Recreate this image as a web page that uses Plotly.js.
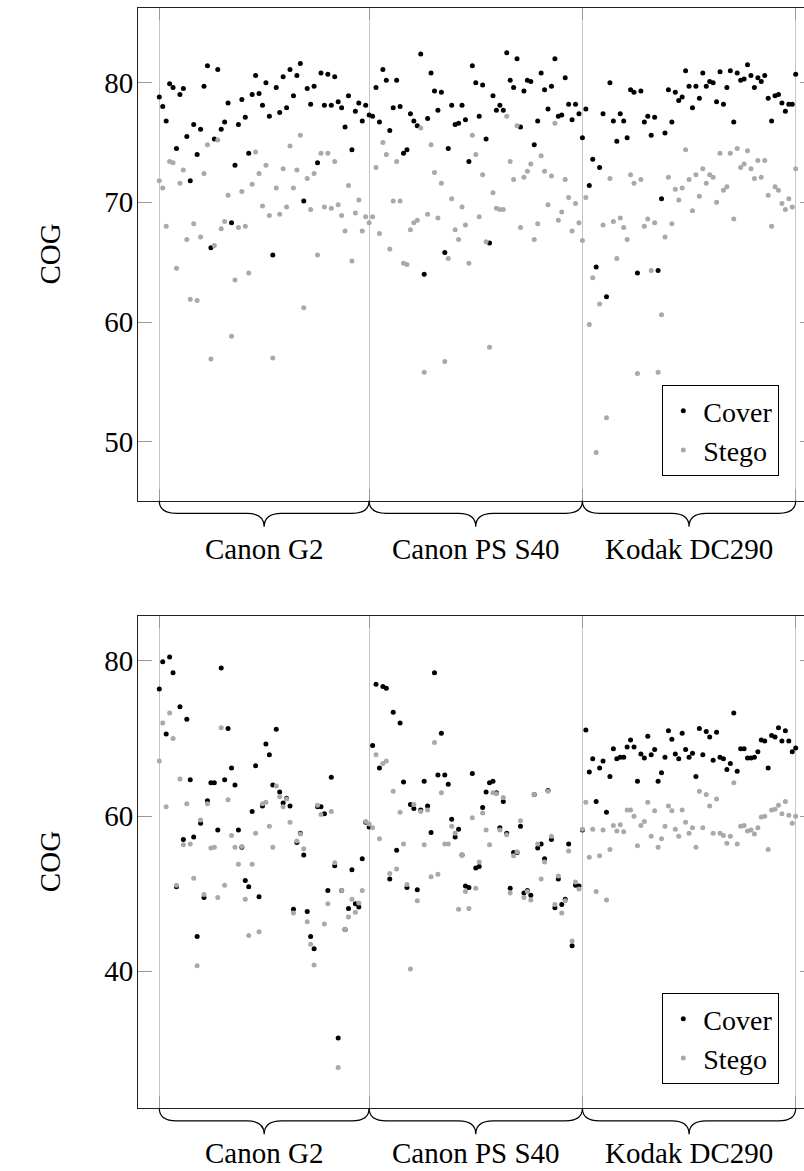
<!DOCTYPE html>
<html><head><meta charset="utf-8">
<script src="https://cdn.plot.ly/plotly-3.0.1.min.js"></script>
<style>html,body{margin:0;padding:0;overflow:hidden;background:#fff}</style>
</head><body><div id="chart" style="width:816px;height:1171px"></div>
<script>
const groupLabels = ['Canon G2', 'Canon PS S40', 'Kodak DC290'];
const groupBounds = [0, 61, 123, 185];
const seriesNames = ['Cover', 'Stego'];
const topTicks = [50, 60, 70, 80];
const bottomTicks = [40, 60, 80];

const topCover = [
78.8,78.0,76.8,79.9,79.6,74.5,79.0,79.5,75.5,71.8,
76.5,74.0,76.1,79.7,81.4,66.2,75.3,81.1,76.1,76.7,
78.3,68.3,73.1,76.5,78.6,77.1,74.1,79.0,80.6,79.1,
78.1,80.0,77.2,65.6,79.6,77.5,80.5,77.9,81.1,78.9,
80.6,81.6,70.1,79.5,78.2,79.7,73.3,80.8,78.1,80.7,
78.1,80.5,78.4,77.9,76.3,78.9,74.4,77.6,78.3,76.8,
78.1,77.3,77.2,79.6,76.7,81.1,80.2,76.0,77.9,80.2,
78.0,74.1,74.4,77.4,76.8,76.4,82.4,64.0,77.0,80.8,
79.3,77.7,79.2,65.8,74.5,78.1,76.5,76.6,78.1,76.9,
73.4,81.4,80.0,77.2,79.8,75.3,66.6,78.9,77.7,78.1,
77.7,82.5,80.2,79.6,82.0,76.3,79.3,80.2,80.1,74.8,
76.8,80.8,79.4,77.8,79.7,82.0,77.2,77.3,80.4,78.2,
76.9,78.2,77.4,75.4,77.8,71.4,73.6,64.6,72.9,77.4,
62.1,80.0,76.8,75.1,77.4,76.8,75.4,79.4,79.2,64.1,
79.3,76.7,77.2,75.6,77.1,64.3,70.3,75.8,79.4,76.7,
79.2,78.5,78.8,81.0,79.7,77.9,79.7,78.7,80.8,79.7,
80.1,80.0,78.4,80.9,78.2,79.6,81.0,76.7,80.8,80.2,
80.3,81.5,80.6,79.6,80.4,80.1,80.6,78.7,76.8,78.9,
79.0,78.3,77.6,78.2,78.2,80.7];

const topStego = [
71.8,71.2,68.0,73.4,73.3,64.5,71.6,72.7,66.9,61.9,
68.2,61.8,67.1,72.4,74.8,56.9,66.4,75.2,67.8,68.4,
70.6,58.8,63.5,67.9,70.9,68.0,64.1,71.5,74.2,72.4,
69.7,73.1,68.9,57.0,71.2,69.0,72.8,69.6,74.7,71.2,
72.7,75.6,61.2,72.0,69.4,72.4,65.6,74.1,69.6,74.1,
69.5,73.4,69.8,68.9,67.6,71.4,65.1,69.1,70.2,67.6,
68.8,68.3,68.8,72.9,67.4,75.0,74.0,66.1,70.1,73.4,
70.1,64.9,64.8,67.7,68.3,68.5,76.2,55.8,69.0,74.8,
72.5,68.7,71.6,56.7,65.3,70.3,67.7,66.9,69.6,68.1,
64.9,75.6,74.0,68.8,72.3,66.7,57.9,70.8,69.5,69.4,
69.4,77.2,73.4,71.9,76.4,67.9,72.1,72.6,73.2,66.9,
68.2,73.9,72.6,69.8,72.2,76.6,68.5,69.2,71.9,70.4,
67.6,69.9,68.3,66.8,70.4,59.8,63.7,49.1,61.5,68.1,
52.0,72.0,68.4,65.3,68.7,67.9,66.9,72.3,71.6,55.7,
71.9,68.0,68.6,64.3,68.3,55.8,60.6,67.1,72.1,68.2,
71.1,70.2,71.2,74.4,71.9,69.3,72.3,70.5,72.8,71.6,
72.3,72.1,70.0,74.1,71.0,71.3,74.1,68.6,74.5,72.9,
73.2,74.3,72.8,72.0,73.5,72.1,73.5,70.6,68.0,71.3,
71.0,69.9,69.4,70.3,69.6,72.8];

const bottomCover = [
76.4,79.9,70.6,80.5,78.5,50.9,74.1,57.0,72.5,64.7,
57.3,44.5,59.1,49.5,62.0,64.3,64.3,58.2,79.1,64.7,
71.3,66.2,64.0,58.2,56.0,51.7,50.9,60.6,66.5,49.6,
61.3,69.3,67.9,64.0,71.2,63.1,61.7,62.3,61.3,48.0,
56.6,57.8,55.0,47.7,44.5,42.9,61.2,61.2,60.3,50.4,
65.0,53.6,31.4,50.4,45.4,48.1,53.1,48.7,48.3,54.5,
59.2,58.6,69.1,77.0,66.2,76.7,76.5,51.9,73.4,55.6,
72.0,64.4,50.8,61.5,61.0,50.5,60.8,64.5,61.3,57.9,
78.5,65.3,70.7,65.3,64.1,59.6,57.3,58.3,55.0,51.0,
50.8,65.5,53.3,53.5,61.1,63.1,64.3,64.5,63.0,58.5,
61.9,57.8,50.7,55.3,55.3,58.7,50.1,50.4,49.8,62.8,
55.9,56.4,54.5,63.3,57.0,48.2,51.9,48.6,49.3,56.4,
43.3,51.1,51.0,58.2,71.1,65.7,67.4,61.9,66.2,67.1,
60.5,65.1,68.7,67.4,67.6,67.6,68.9,69.8,68.9,64.5,
68.0,67.5,70.3,67.9,68.6,64.5,65.6,67.6,71.0,69.9,
68.0,67.4,70.7,68.6,67.6,68.1,65.1,71.3,67.9,70.9,
70.2,67.2,70.8,67.6,67.4,66.0,66.8,73.3,65.8,68.7,
68.7,67.5,67.5,67.6,68.3,69.8,69.7,66.2,70.4,70.2,
71.4,69.7,71.0,69.7,68.3,68.8];

const bottomStego = [
67.1,72.0,61.2,73.3,70.0,51.1,64.8,56.3,61.6,56.4,
52.0,40.7,59.5,49.9,61.6,55.9,56.0,49.5,71.4,51.1,
62.1,57.5,56.0,53.8,56.1,49.3,44.6,53.8,57.8,45.1,
61.6,61.8,58.7,56.0,63.9,62.5,61.2,62.2,59.2,47.5,
56.8,57.7,55.8,46.4,43.5,40.8,61.4,60.2,46.1,48.7,
60.6,54.0,27.6,50.4,45.4,47.0,49.3,47.6,48.8,50.4,
59.3,59.0,58.5,67.9,57.1,66.8,67.1,52.6,63.2,53.2,
60.5,56.4,51.2,40.3,61.5,49.1,60.6,56.3,60.8,52.2,
69.5,52.5,63.0,56.4,56.4,58.7,57.8,48.0,55.0,50.3,
48.1,59.8,50.7,54.1,60.4,58.2,56.3,63.0,62.9,58.2,
62.4,57.6,50.1,54.9,55.4,59.4,49.5,50.3,49.2,62.8,
56.4,51.9,54.1,63.2,57.4,48.6,52.3,47.5,49.1,55.5,
43.9,51.5,50.6,58.3,61.8,54.7,58.3,50.3,54.9,58.2,
49.2,55.7,58.8,58.1,58.9,58.0,60.8,60.8,60.0,56.2,
58.8,59.3,61.8,57.4,60.7,56.0,57.1,58.7,61.3,60.7,
58.3,57.4,60.8,59.2,57.8,58.5,56.0,63.2,58.5,62.8,
61.3,57.8,62.2,57.8,57.5,56.5,57.4,64.3,56.4,58.7,
58.8,58.1,58.2,57.7,58.5,59.9,60.0,55.7,60.8,60.9,
61.4,60.3,61.9,60.1,59.1,60.0];

// ---- layout geometry ----
const W = 816, H = 1171, ML = 138, MR = 2;
const PW = W - ML - MR;
const FONT = '"Liberation Serif", "DejaVu Serif", serif';
const FS = 29;
const topDom = [1 - 500.7 / H, 1 - 8.3 / H];
const botDom = [1 - 1108.3 / H, 1 - 616 / H];
const xIdx = topCover.map((_, i) => i);
const COVER_C = '#000000', STEGO_C = '#a9a9a9';

function mk(y, name, color, xa, ya, lg) {
  return {x: xIdx, y: y, type: 'scatter', mode: 'markers', name: name,
    marker: {color: color, size: 5}, xaxis: xa, yaxis: ya, legend: lg,
    hoverinfo: 'skip'};
}
const data = [
  mk(topCover, seriesNames[0], COVER_C, 'x', 'y', 'legend'),
  mk(topStego, seriesNames[1], STEGO_C, 'x', 'y', 'legend'),
  mk(bottomCover, seriesNames[0], COVER_C, 'x2', 'y2', 'legend2'),
  mk(bottomStego, seriesNames[1], STEGO_C, 'x2', 'y2', 'legend2')
];

function xAxis(anchor) {
  return {anchor: anchor, range: [-6.19, -6.19 + PW / 3.44], tickvals: groupBounds,
    showticklabels: false, ticks: 'inside', ticklen: 12, tickcolor: '#999',
    tickwidth: 1, showgrid: true, gridcolor: '#c6c6c6', gridwidth: 1,
    zeroline: false, showline: true, linecolor: '#222', linewidth: 1,
    mirror: 'ticks', fixedrange: true};
}
function yAxis(anchor, dom, range, ticks) {
  return {anchor: anchor, domain: dom, range: range, tickvals: ticks,
    ticks: 'inside', ticklen: 14, tickcolor: '#999', tickwidth: 1,
    showgrid: false, zeroline: false, showline: true, linecolor: '#222',
    linewidth: 1, mirror: 'ticks', ticklabelstandoff: -2,
    tickfont: {family: FONT, size: FS, color: '#000'}, fixedrange: true};
}

const shapes = [], annotations = [];
[[topDom, 'x', 48], [botDom, 'x2', 45]].forEach(([dom, xr, lblOff]) => {
  const yT = dom[0], yM = dom[0] - 12.6 / H, yB = dom[0] - 26 / H;
  const dx = 5;
  for (let g = 0; g < groupLabels.length; g++) {
    const x0 = groupBounds[g], x1 = groupBounds[g + 1], xc = (x0 + x1) / 2;
    const p = `M${x0},${yT} Q${x0},${yM} ${x0 + dx},${yM} L${xc - dx},${yM} ` +
      `Q${xc},${yM} ${xc},${yB} Q${xc},${yM} ${xc + dx},${yM} L${x1 - dx},${yM} ` +
      `Q${x1},${yM} ${x1},${yT}`;
    shapes.push({type: 'path', xref: xr, yref: 'paper', path: p,
      line: {color: '#000', width: 1.2}, layer: 'above'});
    annotations.push({xref: xr, yref: 'paper', x: xc, y: dom[0] - lblOff / H,
      xanchor: 'center', yanchor: 'middle', text: groupLabels[g], showarrow: false,
      font: {family: FONT, size: FS, color: '#000'}});
  }
  annotations.push({xref: 'paper', yref: 'paper', x: (50 - ML) / PW,
    y: (dom[0] + dom[1]) / 2, textangle: -90, text: 'COG', showarrow: false,
    xanchor: 'center', yanchor: 'middle', font: {family: FONT, size: FS, color: '#000'}});
});

function legendAt(bottomPx) {
  return {x: (779.3 - ML) / PW, xanchor: 'right', y: 1 - bottomPx / H, yanchor: 'bottom',
    bordercolor: '#000', borderwidth: 1, bgcolor: '#fff', itemwidth: 30,
    font: {family: FONT, size: 28, color: '#000'}, tracegroupgap: 0};
}

const layout = {
  width: W, height: H, margin: {l: ML, r: MR, t: 0, b: 0},
  paper_bgcolor: '#fff', plot_bgcolor: '#fff', showlegend: true,
  font: {family: FONT, size: FS, color: '#000'},
  xaxis: xAxis('y'), yaxis: yAxis('x', topDom, [45.07, 86.21], topTicks),
  xaxis2: xAxis('y2'), yaxis2: yAxis('x2', botDom, [22.34, 85.8], bottomTicks),
  legend: legendAt(476), legend2: legendAt(1084),
  shapes: shapes, annotations: annotations, hovermode: false
};
Plotly.newPlot('chart', data, layout, {staticPlot: true, responsive: false});
</script></body></html>
